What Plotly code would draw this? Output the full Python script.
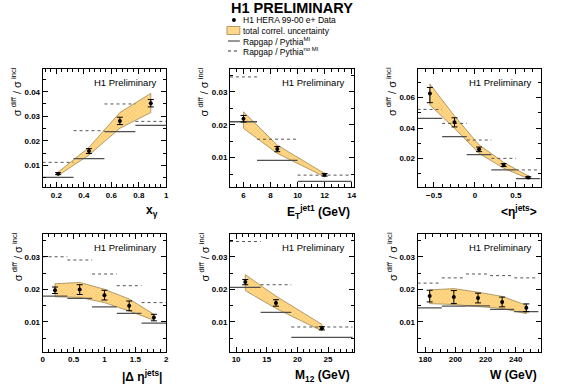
import plotly.graph_objects as go

# ---------------- data ----------------
xg_edges = [0.1, 0.325, 0.55, 0.775, 1.0]
xg_x = [0.2125, 0.4375, 0.6625, 0.8875]
xg_val = [0.0066, 0.0158, 0.0281, 0.0353]
xg_err = [0.0004, 0.0010, 0.0015, 0.0015]
xg_band_lo = [0.0058, 0.0142, 0.0251, 0.0315]
xg_band_hi = [0.0072, 0.0173, 0.0315, 0.0393]
xg_mi = [0.0051, 0.0127, 0.0237, 0.0263]
xg_nomi = [0.0112, 0.0241, 0.0350, 0.0279]

et_edges = [5, 7, 10, 14]
et_x = [6, 8.5, 12]
et_val = [0.0218, 0.0126, 0.0048]
et_err = [0.0010, 0.0008, 0.0004]
et_band_lo = [0.0189, 0.0113, 0.0042]
et_band_hi = [0.0239, 0.0138, 0.0052]
et_mi = [0.0209, 0.0092, 0.0028]
et_nomi = [0.0345, 0.0156, 0.0047]

eta_edges = [-0.7, -0.4, -0.1, 0.2, 0.5, 0.8]
eta_x = [-0.55, -0.25, 0.05, 0.35, 0.65]
eta_val = [0.0627, 0.0438, 0.0261, 0.0158, 0.0077]
eta_err_hi = [0.0040, 0.0030, 0.0015, 0.0010, 0.0005]
eta_err_lo = [0.0060, 0.0030, 0.0015, 0.0010, 0.0005]
eta_band_lo = [0.0552, 0.0399, 0.0235, 0.0137, 0.0069]
eta_band_hi = [0.0690, 0.0480, 0.0290, 0.0176, 0.0086]
eta_mi = [0.0464, 0.0344, 0.0226, 0.0126, 0.0069]
eta_nomi = [0.0523, 0.0431, 0.0322, 0.0202, 0.0126]

deta_edges = [0, 0.4, 0.8, 1.2, 1.6, 2.0]
deta_x = [0.2, 0.6, 1.0, 1.4, 1.8]
deta_val = [0.0197, 0.0199, 0.0182, 0.0149, 0.0113]
deta_err = [0.0010, 0.0015, 0.0015, 0.0015, 0.0010]
deta_band_lo = [0.0177, 0.0175, 0.0159, 0.0133, 0.0105]
deta_band_hi = [0.0217, 0.0221, 0.0200, 0.0170, 0.0123]
deta_mi = [0.0179, 0.0172, 0.0146, 0.0126, 0.0096]
deta_nomi = [0.0300, 0.0290, 0.0247, 0.0211, 0.0159]

m12_edges = [9, 14, 19, 29]
m12_x = [11.5, 16.5, 24]
m12_val = [0.0222, 0.0158, 0.0080]
m12_err = [0.0008, 0.0010, 0.0005]
m12_band_lo = [0.0196, 0.0141, 0.0072]
m12_band_hi = [0.0245, 0.0179, 0.0092]
m12_mi = [0.0206, 0.0129, 0.0052]
m12_nomi = [0.0347, 0.0214, 0.0084]

w_edges = [175, 191, 207, 223, 239, 255]
w_x = [183, 199, 215, 231, 247]
w_val = [0.0179, 0.0176, 0.0173, 0.0161, 0.0143]
w_err = [0.0018, 0.0020, 0.0015, 0.0015, 0.0012]
w_band_lo = [0.0156, 0.0153, 0.0148, 0.0141, 0.0125]
w_band_hi = [0.0198, 0.0202, 0.0191, 0.0178, 0.0151]
w_mi = [0.0143, 0.0148, 0.0149, 0.0138, 0.0131]
w_nomi = [0.0219, 0.0235, 0.0247, 0.0242, 0.0235]

x_titles = ["x<sub>γ</sub>", "E<sub>T</sub><sup>jet1</sup> (GeV)", "<η<sup>jets</sup>>",
            "|Δ η<sup>jets</sup>|", "M<sub>12</sub> (GeV)", "W (GeV)"]
y_title = "σ<sup> diff</sup> / σ<sup> incl</sup>"
panel_label = "H1 Preliminary"
fig_title = "H1 PRELIMINARY"
legend_labels = ["H1 HERA 99-00 e+ Data", "total correl. uncertainty",
                 "Rapgap / Pythia<sup>MI</sup>", "Rapgap / Pythia<sup>no MI</sup>"]

panels = [
    dict(edges=xg_edges, x=xg_x, val=xg_val, eh=xg_err, el=xg_err, lo=xg_band_lo, hi=xg_band_hi,
         mi=xg_mi, nomi=xg_nomi, xr=[0.1, 1.0], yr=[0.00115, 0.04925], xd=0.2, xm=0.04, yd=0.01),
    dict(edges=et_edges, x=et_x, val=et_val, eh=et_err, el=et_err, lo=et_band_lo, hi=et_band_hi,
         mi=et_mi, nomi=et_nomi, xr=[5, 14.2], yr=[0.0011, 0.0369], xd=2, xm=0.5, yd=0.01),
    dict(edges=eta_edges, x=eta_x, val=eta_val, eh=eta_err_hi, el=eta_err_lo, lo=eta_band_lo, hi=eta_band_hi,
         mi=eta_mi, nomi=eta_nomi, xr=[-0.7, 0.8], yr=[0.0014, 0.0788], xd=0.5, xm=0.1, yd=0.02),
    dict(edges=deta_edges, x=deta_x, val=deta_val, eh=deta_err, el=deta_err, lo=deta_band_lo, hi=deta_band_hi,
         mi=deta_mi, nomi=deta_nomi, xr=[0, 2], yr=[0.0008, 0.037], xd=0.5, xm=0.1, yd=0.01),
    dict(edges=m12_edges, x=m12_x, val=m12_val, eh=m12_err, el=m12_err, lo=m12_band_lo, hi=m12_band_hi,
         mi=m12_mi, nomi=m12_nomi, xr=[9, 29.3], yr=[0.0008, 0.037], xd=5, xm=1, yd=0.01),
    dict(edges=w_edges, x=w_x, val=w_val, eh=w_err, el=w_err, lo=w_band_lo, hi=w_band_hi,
         mi=w_mi, nomi=w_nomi, xr=[175, 256.4], yr=[0.0008, 0.037], xd=20, xm=5, yd=0.01),
]

# ---------------- layout geometry ----------------
W, H = 567, 386
col_dom = [[41 / W, 165.7 / W], [230 / W, 355.5 / W], [419.3 / W, 543.3 / W]]
row_dom = [[1 - 187 / H, 1 - 69 / H], [1 - 351.7 / H, 1 - 234 / H]]

FONT = "Liberation Sans, Arial, sans-serif"
band_fill = "#ffd88a"
band_line = "#a08850"

fig = go.Figure()
layout = dict(width=W, height=H, margin=dict(l=0, r=0, t=0, b=0),
              paper_bgcolor="white", plot_bgcolor="white", showlegend=False,
              font=dict(family=FONT, color="black"))
annotations = []
shapes = []


def segs(edges, vals):
    xs, ys = [], []
    for i, v in enumerate(vals):
        xs += [edges[i], edges[i + 1], None]
        ys += [v, v, None]
    return xs, ys


for i, p in enumerate(panels):
    k = i + 1
    xa = "x" if k == 1 else f"x{k}"
    ya = "y" if k == 1 else f"y{k}"
    r, c = divmod(i, 3)
    # uncertainty band
    fig.add_trace(go.Scatter(
        x=p["x"] + p["x"][::-1] + [p["x"][0]], y=p["hi"] + p["lo"][::-1] + [p["hi"][0]],
        xaxis=xa, yaxis=ya, mode="lines", fill="toself", fillcolor=band_fill,
        fillpattern=dict(shape="x", bgcolor=band_fill, fgcolor="#f2b040", size=3, solidity=0.35),
        line=dict(color=band_line, width=0.8), hoverinfo="skip"))
    # MC no MI (dotted)
    sx, sy = segs(p["edges"], p["nomi"])
    fig.add_trace(go.Scatter(x=sx, y=sy, xaxis=xa, yaxis=ya, mode="lines",
                             line=dict(color="#555555", width=1, dash="dot")))
    # MC MI (solid)
    sx, sy = segs(p["edges"], p["mi"])
    fig.add_trace(go.Scatter(x=sx, y=sy, xaxis=xa, yaxis=ya, mode="lines",
                             line=dict(color="#505050", width=1.3)))
    # data
    fig.add_trace(go.Scatter(
        x=p["x"], y=p["val"], xaxis=xa, yaxis=ya, mode="markers",
        marker=dict(color="black", size=4),
        error_y=dict(type="data", array=p["eh"], arrayminus=p["el"], symmetric=False,
                     color="black", thickness=1, width=3)))

    axcommon = dict(showline=True, linecolor="black", linewidth=1, mirror="ticks",
                    ticks="inside", ticklen=5, tickwidth=1, tickcolor="black",
                    showgrid=False, zeroline=False,
                    tickfont=dict(family=FONT, size=8, color="black", weight="bold"))
    layout["xaxis" if k == 1 else f"xaxis{k}"] = dict(
        axcommon, domain=col_dom[c], anchor=ya, range=p["xr"], dtick=p["xd"], tick0=0,
        minor=dict(ticks="inside", ticklen=3, dtick=p["xm"], tick0=0, tickcolor="black", showgrid=False))
    layout["yaxis" if k == 1 else f"yaxis{k}"] = dict(
        axcommon, domain=row_dom[r], anchor=xa, range=p["yr"], dtick=p["yd"], tick0=0,
        minor=dict(ticks="inside", ticklen=3, dtick=p["yd"] / 2, tick0=0, tickcolor="black", showgrid=False))

    annotations.append(dict(text=panel_label, xref=f"{xa} domain", yref=f"{ya} domain",
                            x=1, y=1, xshift=-7, yshift=-6, xanchor="right", yanchor="top",
                            showarrow=False, font=dict(size=9.5, family=FONT)))
    annotations.append(dict(text=x_titles[i], xref=f"{xa} domain", yref=f"{ya} domain",
                            x=1, y=0, xshift=-2 if i != 0 else -6, yshift=-14, xanchor="right",
                            yanchor="top", showarrow=False,
                            font=dict(size=12, family=FONT, weight="bold")))
    annotations.append(dict(text=y_title, xref=f"{xa} domain", yref=f"{ya} domain",
                            x=0, y=1, xshift=-26, yshift=4, xanchor="center", yanchor="top",
                            textangle=-90, showarrow=False, font=dict(size=11, family=FONT)))

# ---------------- title and legend ----------------
annotations.append(dict(text=f"<b>{fig_title}</b>", xref="paper", yref="paper",
                        x=293 / W, y=1 - 8 / H, xanchor="center", yanchor="middle",
                        showarrow=False, borderpad=0, font=dict(size=14.5, family=FONT)))
leg_y = [20, 30.5, 41, 51]
for j, lab in enumerate(legend_labels):
    annotations.append(dict(text=lab, xref="paper", yref="paper", x=242 / W, y=1 - leg_y[j] / H,
                            xanchor="left", yanchor="middle", showarrow=False, borderpad=0,
                            font=dict(size=8.5, family=FONT)))
shapes.append(dict(type="circle", xref="paper", yref="paper",
                   x0=232 / W, x1=236 / W, y0=1 - 22 / H, y1=1 - 18 / H,
                   fillcolor="black", line=dict(width=0)))
shapes.append(dict(type="rect", xref="paper", yref="paper",
                   x0=227 / W, x1=240 / W, y0=1 - 34.5 / H, y1=1 - 26.5 / H,
                   fillcolor=band_fill, line=dict(color=band_line, width=0.8)))
shapes.append(dict(type="line", xref="paper", yref="paper",
                   x0=228 / W, x1=240 / W, y0=1 - 41 / H, y1=1 - 41 / H,
                   line=dict(color="#303030", width=1)))
shapes.append(dict(type="line", xref="paper", yref="paper",
                   x0=228 / W, x1=240 / W, y0=1 - 51 / H, y1=1 - 51 / H,
                   line=dict(color="#303030", width=1, dash="dot")))

layout["annotations"] = annotations
layout["shapes"] = shapes
fig.update_layout(**layout)
fig.write_html("out.html", config={"displayModeBar": False, "staticPlot": True},
               post_script="document.body.style.margin='0px';document.body.style.overflow='hidden';")
